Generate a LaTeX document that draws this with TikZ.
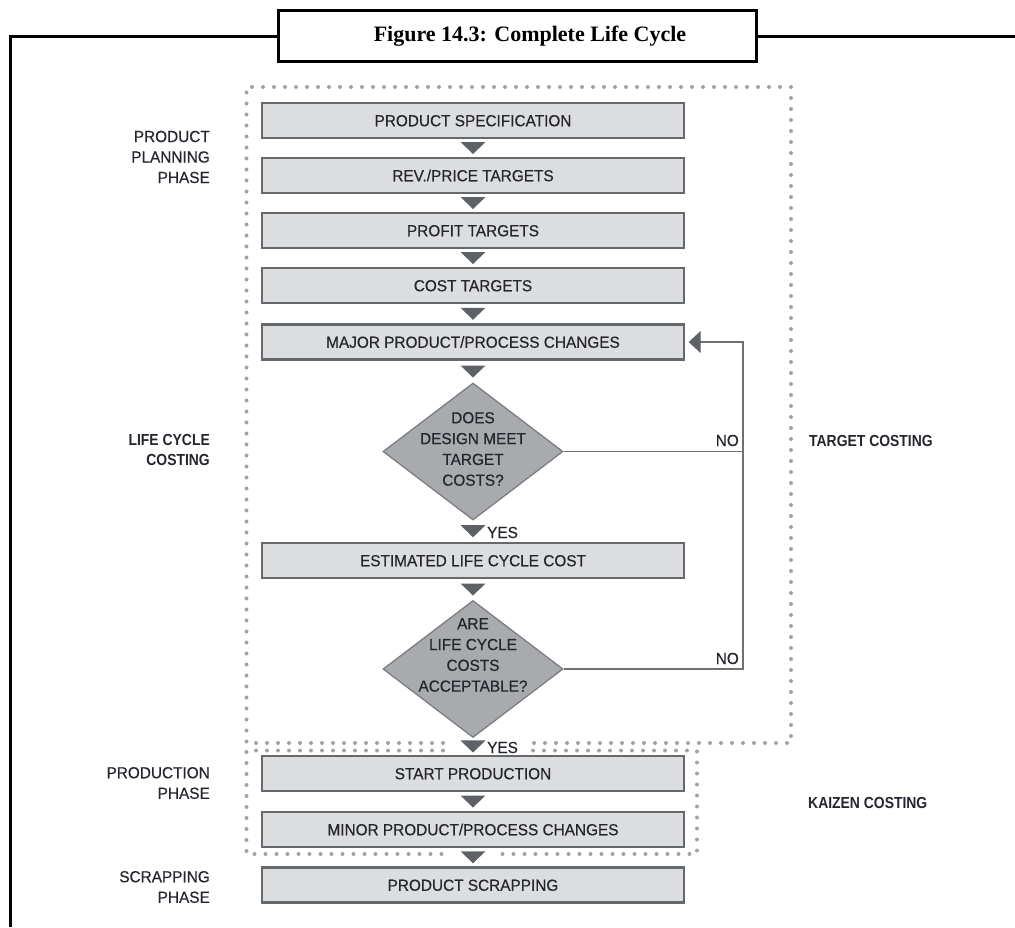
\documentclass[tikz,border=0pt]{standalone}
\usepackage{fontspec}
\setmainfont{Liberation Sans}
\newfontfamily\labfont[FakeStretch=0.96,FakeBold=0.4]{Liberation Sans}
\newfontfamily\boldlabfont[FakeStretch=0.87]{Liberation Sans}
\newfontfamily\titlefont{Liberation Serif}
\usetikzlibrary{shapes.geometric,arrows.meta,calc}
\definecolor{boxfill}{HTML}{DCDDDF}
\definecolor{boxline}{HTML}{66696C}
\definecolor{trifill}{HTML}{5E6165}
\definecolor{dfill}{HTML}{A8AAAD}
\definecolor{dline}{HTML}{7B7E81}
\definecolor{fbline}{HTML}{6E7174}
\definecolor{dotcol}{HTML}{A0A3A6}
\definecolor{txt}{HTML}{25252E}
\tikzset{
  frame/.style={draw=black, line width=3pt},
  titlebox/.style={draw=black, line width=3pt, fill=white, minimum width=478pt, minimum height=51pt, inner sep=0pt},
  titletext/.style={font=\titlefont\bfseries\fontsize{22}{26}\selectfont, text=black, inner sep=0pt},
  dots/.style={draw=dotcol, line width=4pt, line cap=round, dash pattern=on 0pt off 11pt},
  procbox/.style={draw=boxline, line width=2.4pt, fill=boxfill, minimum width=422pt, minimum height=35pt, inner sep=0pt,
     font=\labfont\fontsize{16}{20}\selectfont, text=txt, text height=11.5pt, text depth=0pt},
  decision/.style={diamond, draw=dline, line width=1.3pt, fill=dfill, minimum width=180pt, minimum height=137pt, inner sep=0pt},
  dtext/.style={font=\labfont\fontsize{16}{20.8}\selectfont, text=txt, align=center, inner sep=0pt},
  lab/.style={font=\labfont\fontsize{16}{20.5}\selectfont, text=txt, inner sep=0pt},
  leftlab/.style={lab, align=right, anchor=east},
  blab/.style={font=\boldlabfont\bfseries\fontsize{16}{20.5}\selectfont, text=txt, inner sep=0pt},
  fb/.style={draw=fbline, line width=1.3pt},
  dtri/.pic={\fill[trifill] (-12.5,-6) -- (12.5,-6) -- (0,6) -- cycle;}
}
\begin{document}
\begin{tikzpicture}[x=1pt,y=-1pt]
\useasboundingbox (0,0) rectangle (1015,927);
% outer frame
\coordinate (fBL) at (10,927);
\coordinate (fTL) at (10,36);
\coordinate (fTR) at (1016,36);
\draw[frame] (fBL) -- (fTL) -- (fTR);
\node[titlebox] (title) at (517,35.5) {};
\node[titletext, anchor=base] (ttext) at (530,41.7) {Figure 14.3: Complete Life Cycle};
% dotted regions
\draw[dots] (443,743) -- (246.5,743) -- (246.5,87) -- (791,87) -- (791,743) -- (533,743);
\draw[dots] (443,750.5) -- (246.5,750.5) -- (246.5,854) -- (445,854);
\draw[dots] (533,750.5) -- (697,750.5) -- (697,854) -- (499,854);
% boxes
\node[procbox] (b1) at (473,120.5) {PRODUCT SPECIFICATION};
\node[procbox] (b2) at (473,175.5) {REV./PRICE TARGETS};
\node[procbox] (b3) at (473,230.5) {PROFIT TARGETS};
\node[procbox] (b4) at (473,285.5) {COST TARGETS};
\node[procbox] (b5) at (473,342) {MAJOR PRODUCT/PROCESS CHANGES};
\node[decision] (d1) at (473,451.5) {};
\node[dtext] (d1t) at (473,449) {DOES\\DESIGN MEET\\TARGET\\COSTS?};
\node[procbox] (b6) at (473,560.5) {ESTIMATED LIFE CYCLE COST};
\node[decision] (d2) at (473,669) {};
\node[dtext] (d2t) at (473,655) {ARE\\LIFE CYCLE\\COSTS\\ACCEPTABLE?};
\node[procbox] (b7) at (473,773.5) {START PRODUCTION};
\node[procbox] (b8) at (473,829.5) {MINOR PRODUCT/PROCESS CHANGES};
\node[procbox] (b9) at (473,885) {PRODUCT SCRAPPING};
% flow triangles
\path (b1.south) -- (b2.north) coordinate[midway] (a1);
\path (b2.south) -- (b3.north) coordinate[midway] (a2);
\path (b3.south) -- (b4.north) coordinate[midway] (a3);
\path (b4.south) -- (b5.north) coordinate[midway] (a4);
\path (b5.south) -- (d1.north) coordinate[midway] (a5);
\path (d1.south) -- (b6.north) coordinate[midway] (a6);
\path (b6.south) -- (d2.north) coordinate[midway] (a7);
\path (d2.south) -- (b7.north) coordinate[midway] (a8);
\path (b7.south) -- (b8.north) coordinate[midway] (a9);
\path (b8.south) -- (b9.north) coordinate[midway] (a10);
\foreach \a in {a1,a2,a3,a4,a5,a6,a7,a8,a9,a10} { \pic at (\a) {dtri}; }
\node[lab, anchor=base west] (yes1) at (487,538) {YES};
\node[lab, anchor=base west] (yes2) at (487,753) {YES};
% feedback loop
\coordinate (r0) at (743,342);
\coordinate (r1) at (743,451.5);
\coordinate (r2) at (743,669);
\draw[fb] (d1.east) -- (r1);
\draw[fb, -{Triangle[length=12pt,width=22pt,color=trifill]}, shorten >=3.5pt] (d2.east) -- (r2) -- (r0) -- (b5.east);
\node[lab, anchor=base east] (no1) at (739,446) {NO};
\node[lab, anchor=base east] (no2) at (739,664) {NO};
% left labels
\node[leftlab] (l1) at (210,157) {PRODUCT\\PLANNING\\PHASE};
\node[blab, align=right, anchor=east] (l2) at (210,450) {LIFE CYCLE\\COSTING};
\node[leftlab] (l3) at (210,783) {PRODUCTION\\PHASE};
\node[leftlab] (l4) at (210,887) {SCRAPPING\\PHASE};
% right labels
\node[blab, anchor=west] (rt) at (809,441) {TARGET COSTING};
\node[blab, anchor=west] (rk) at (808,803) {KAIZEN COSTING};
\end{tikzpicture}
\end{document}
